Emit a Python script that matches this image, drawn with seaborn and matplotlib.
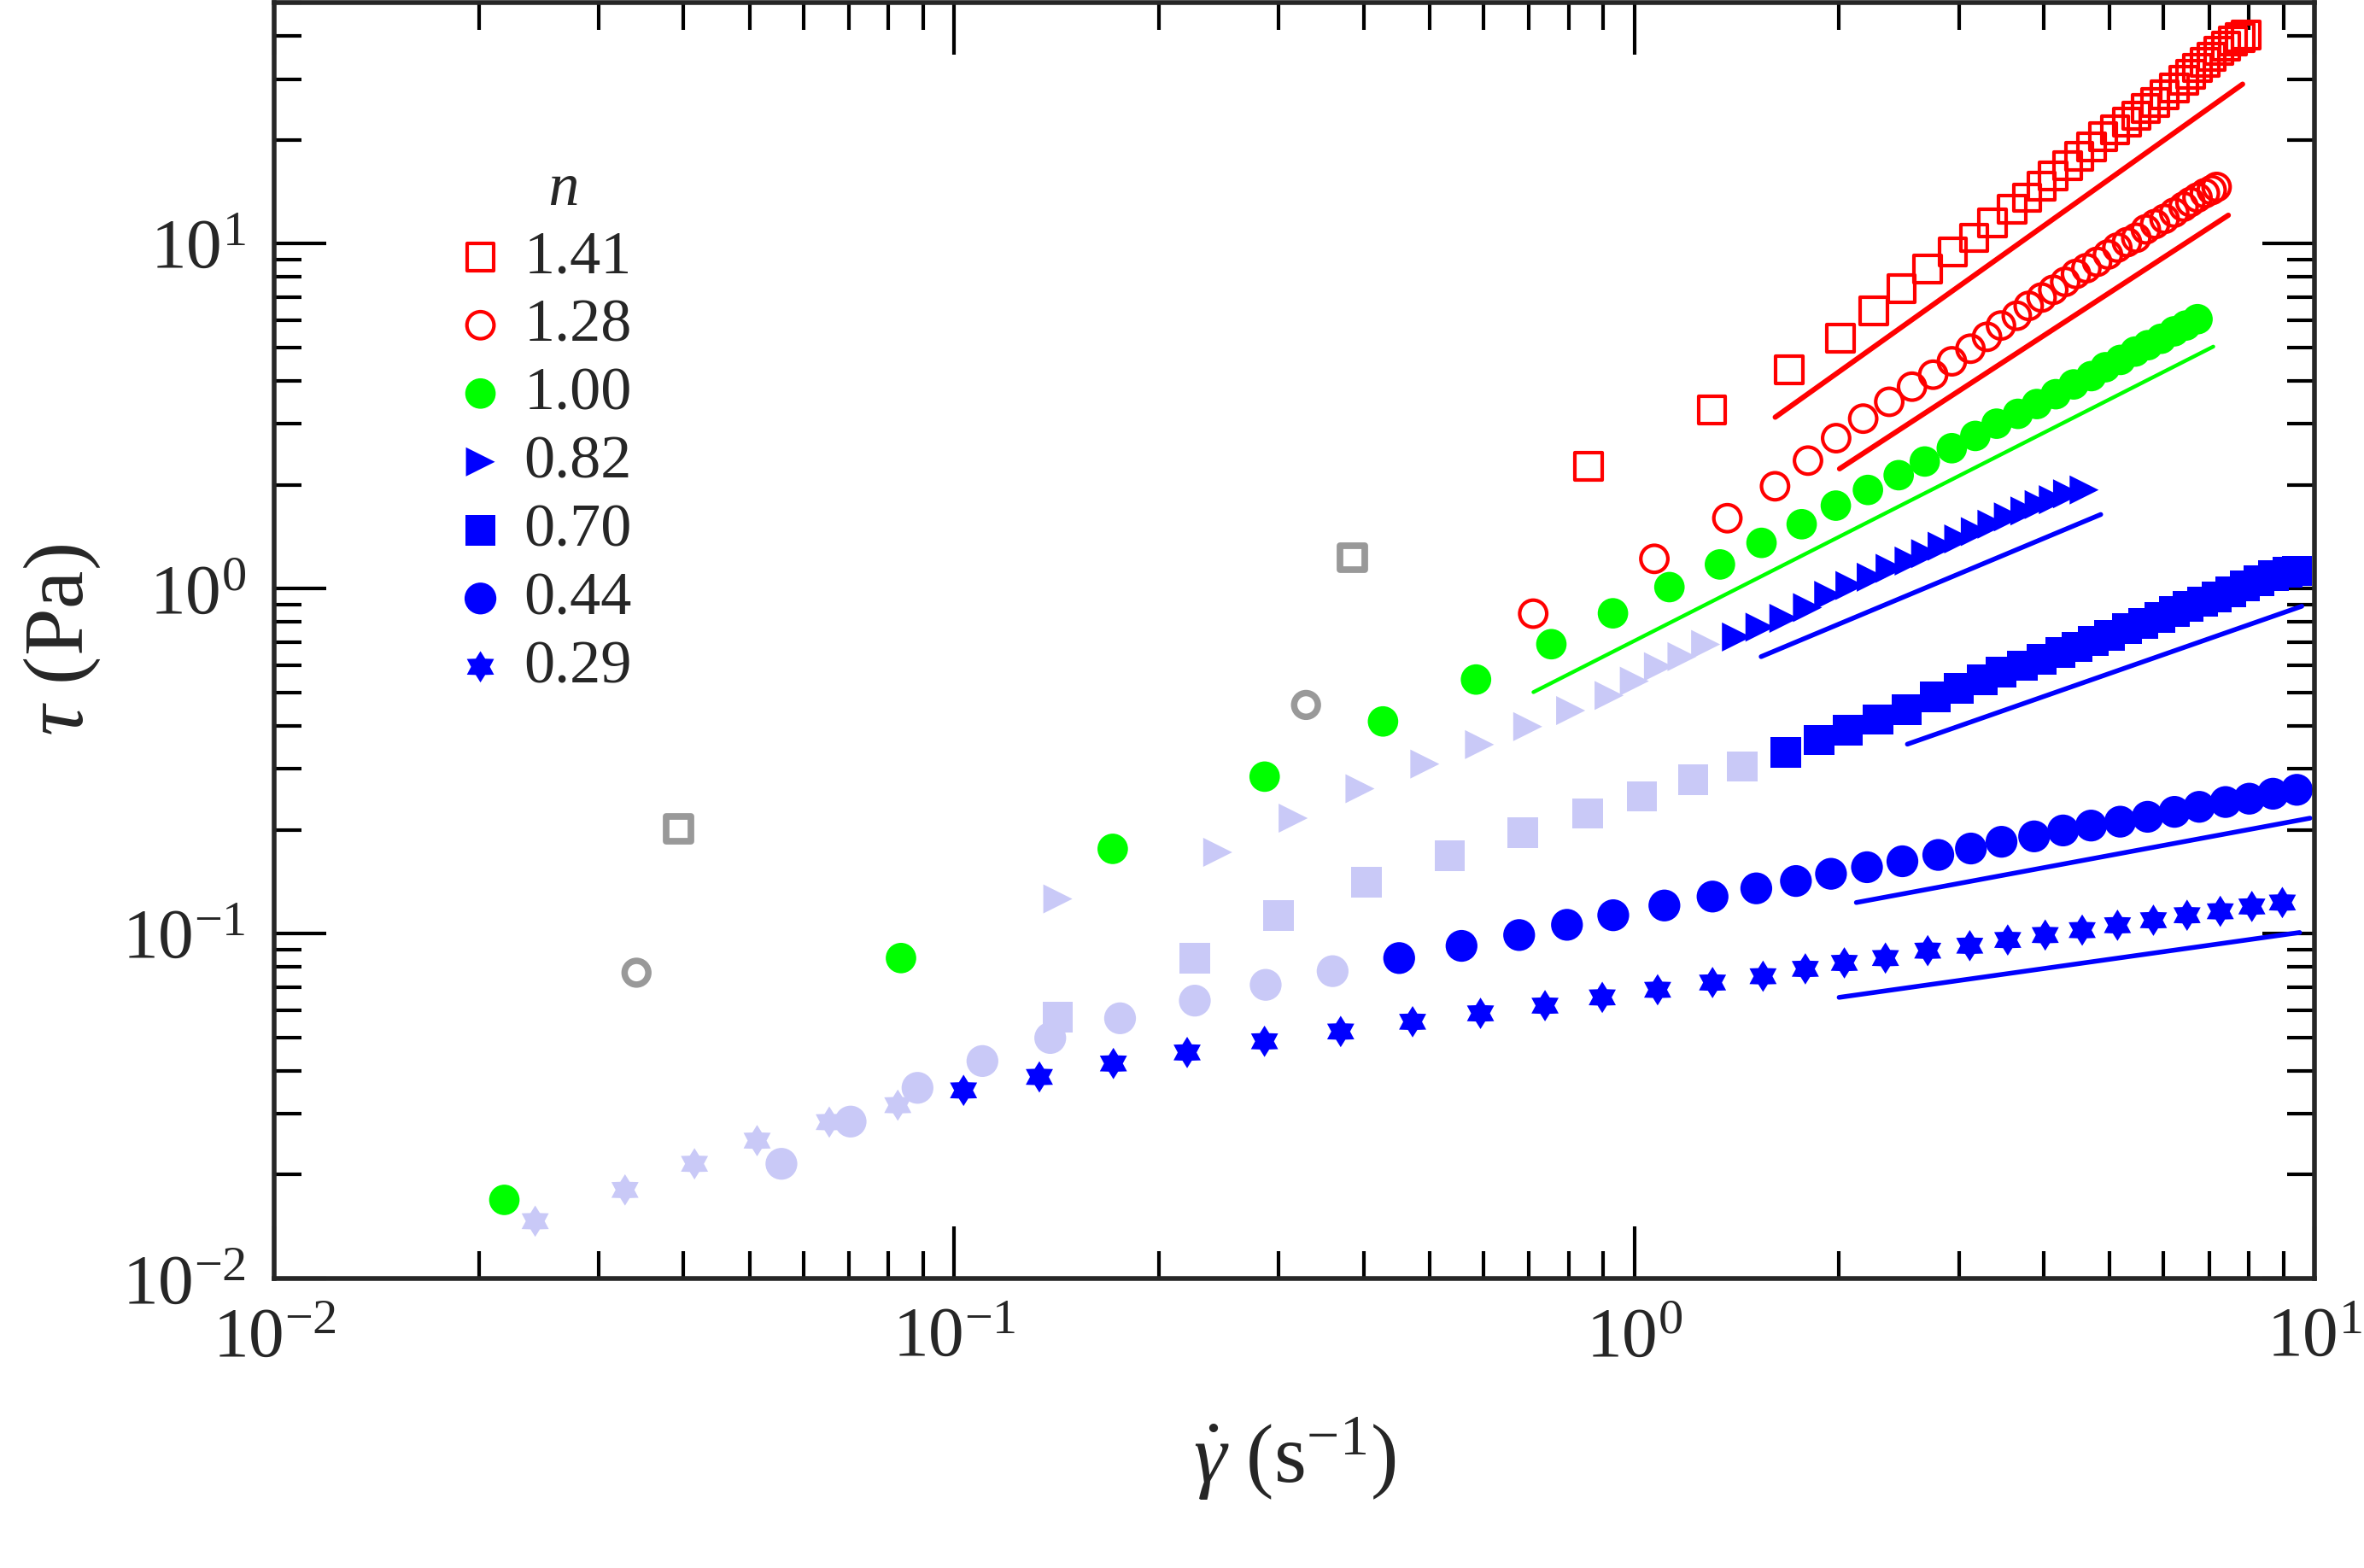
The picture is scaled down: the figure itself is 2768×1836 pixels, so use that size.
import numpy as np
import seaborn as sns
import matplotlib.pyplot as plt

# shear stress vs shear rate, power-law fluids
# values (x = shear rate 1/s, y = stress Pa)

x_141 = [0.857, 1.30, 1.69, 2.01, 2.25, 2.47, 2.70, 2.94, 3.16, 3.36, 3.59, 3.78, 3.97, 4.13, 4.34, 4.51, 4.70, 4.89,
         5.09, 5.30, 5.47, 5.65, 5.83, 6.02, 6.22, 6.42, 6.57, 6.73, 6.90, 7.06, 7.23, 7.41, 7.59, 7.78, 7.94]
y_141 = [2.26, 3.29, 4.31, 5.33, 6.39, 7.40, 8.43, 9.46, 10.4, 11.5, 12.6, 13.6, 14.7, 15.7, 16.8, 17.9, 19.1, 20.4,
         21.4, 22.5, 23.5, 24.7, 25.7, 27.0, 28.3, 29.8, 31.0, 32.3, 33.6, 34.8, 36.2, 37.4, 38.7, 39.6, 40.3]

x_128 = [0.710, 1.07, 1.37, 1.61, 1.80, 1.98, 2.17, 2.37, 2.56, 2.75, 2.93, 3.12, 3.30, 3.46, 3.65, 3.80, 3.97, 4.13,
         4.30, 4.46, 4.62, 4.79, 4.97, 5.13, 5.30, 5.47, 5.65, 5.83, 6.02, 6.22, 6.42, 6.57, 6.73, 6.90, 7.06, 7.18]
y_128 = [0.846, 1.22, 1.60, 1.98, 2.35, 2.73, 3.11, 3.48, 3.85, 4.17, 4.56, 4.96, 5.37, 5.79, 6.18, 6.60, 6.98, 7.35,
         7.75, 8.17, 8.49, 8.86, 9.30, 9.74, 10.1, 10.4, 11.0, 11.4, 11.8, 12.3, 12.8, 13.2, 13.6, 14.0, 14.3, 14.6]

x_100 = [0.0218, 0.0835, 0.171, 0.286, 0.427, 0.585, 0.755, 0.93, 1.126, 1.336, 1.538, 1.762, 1.978, 2.205, 2.447,
         2.673, 2.929, 3.172, 3.409, 3.664, 3.906, 4.165, 4.425, 4.697, 4.927, 5.185, 5.45, 5.69, 5.95, 6.22, 6.47, 6.73]
y_100 = [0.0169, 0.0849, 0.176, 0.285, 0.412, 0.545, 0.69, 0.848, 1.01, 1.175, 1.357, 1.537, 1.74, 1.932, 2.132,
         2.336, 2.553, 2.771, 3.007, 3.211, 3.428, 3.661, 3.908, 4.131, 4.383, 4.603, 4.866, 5.078, 5.30, 5.57, 5.79, 6.04]

x_082_light = [0.142, 0.244, 0.315, 0.395, 0.492, 0.592, 0.697, 0.806, 0.918, 1.00, 1.085, 1.175, 1.273]
y_082_light = [0.126, 0.172, 0.216, 0.263, 0.31, 0.353, 0.398, 0.443, 0.49, 0.539, 0.594, 0.635, 0.689]
x_082 = [1.413, 1.53, 1.659, 1.797, 1.931, 2.075, 2.23, 2.377, 2.535, 2.681, 2.835, 2.999, 3.172, 3.356, 3.548,
         3.752, 3.937, 4.131, 4.335, 4.585]
y_082 = [0.724, 0.773, 0.82, 0.881, 0.956, 1.021, 1.079, 1.145, 1.202, 1.263, 1.327, 1.393, 1.463, 1.537, 1.614,
         1.679, 1.752, 1.81, 1.883, 1.932]

x_070_light = [0.142, 0.226, 0.30, 0.404, 0.535, 0.686, 0.853, 1.026, 1.22, 1.44]
y_070_light = [0.0573, 0.0849, 0.113, 0.141, 0.168, 0.196, 0.223, 0.25, 0.279, 0.305]
x_070 = [1.67, 1.87, 2.06, 2.28, 2.515, 2.77, 3.0, 3.25, 3.46, 3.72, 3.97, 4.23, 4.48, 4.73, 5.0, 5.30, 5.60, 5.92,
         6.22, 6.52, 6.84, 7.18, 7.53, 7.90, 8.29, 8.70, 9.13, 9.42]
y_070 = [0.335, 0.364, 0.388, 0.417, 0.446, 0.485, 0.513, 0.543, 0.572, 0.598, 0.624, 0.652, 0.678, 0.705, 0.733,
         0.765, 0.793, 0.825, 0.858, 0.887, 0.916, 0.947, 0.978, 1.02, 1.055, 1.09, 1.115, 1.126]

x_044_light = [0.0557, 0.0704, 0.0883, 0.110, 0.1384, 0.1753, 0.2258, 0.287, 0.36]
y_044_light = [0.0215, 0.0285, 0.0357, 0.0427, 0.0498, 0.0568, 0.0639, 0.071, 0.0778]
x_044 = [0.451, 0.557, 0.677, 0.796, 0.931, 1.107, 1.303, 1.511, 1.728, 1.946, 2.198, 2.478, 2.798, 3.125, 3.466,
         3.871, 4.27, 4.694, 5.18, 5.684, 6.226, 6.77, 7.40, 8.02, 8.69, 9.42]
y_044 = [0.0849, 0.0921, 0.099, 0.106, 0.113, 0.1206, 0.128, 0.1352, 0.142, 0.149, 0.1557, 0.162, 0.169, 0.1764,
         0.1845, 0.1913, 0.199, 0.2056, 0.211, 0.218, 0.2253, 0.233, 0.2406, 0.246, 0.2543, 0.261]

x_029_light = [0.0242, 0.0328, 0.0415, 0.0513, 0.0655, 0.0826]
y_029_light = [0.01466, 0.01806, 0.0215, 0.0251, 0.0284, 0.0318]
x_029 = [0.1032, 0.1334, 0.1714, 0.22, 0.2859, 0.370, 0.472, 0.594, 0.739, 0.897, 1.082, 1.303, 1.546, 1.784,
         2.036, 2.34, 2.70, 3.113, 3.54, 4.019, 4.555, 5.133, 5.797, 6.496, 7.27, 8.09, 8.97]
y_029 = [0.0351, 0.0384, 0.042, 0.0452, 0.0487, 0.052, 0.0555, 0.0587, 0.0618, 0.0653, 0.0687, 0.0721, 0.0752,
         0.079, 0.0822, 0.0849, 0.0892, 0.0922, 0.0958, 0.099, 0.1023, 0.1057, 0.1093, 0.113, 0.116, 0.1198, 0.123]

# grey outliers
grey_sq_x = [0.0393, 0.385]
grey_sq_y = [0.201, 1.23]
grey_ci_x = [0.0341, 0.329]
grey_ci_y = [0.077, 0.46]

# power law guide lines (start, end)
fit_x_141 = [1.611, 7.84]
fit_y_141 = [3.14, 29.0]
fit_x_128 = [2.003, 7.47]
fit_y_128 = [2.225, 12.09]
fit_x_100 = [0.7105, 7.10]
fit_y_100 = [0.501, 5.03]
fit_x_082 = [1.536, 4.85]
fit_y_082 = [0.635, 1.64]
fit_x_070 = [2.52, 9.58]
fit_y_070 = [0.354, 0.889]
fit_x_044 = [2.12, 9.85]
fit_y_044 = [0.123, 0.216]
fit_x_029 = [2.0, 9.51]
fit_y_029 = [0.0653, 0.1007]

labels = ['1.41', '1.28', '1.00', '0.82', '0.70', '0.44', '0.29']

sns.set_style('ticks')
plt.rcParams['font.family'] = ['Liberation Serif', 'DejaVu Serif']
plt.rcParams['mathtext.fontset'] = 'custom'
plt.rcParams['mathtext.rm'] = 'Liberation Serif'
plt.rcParams['mathtext.it'] = 'Liberation Serif:italic'
plt.rcParams['mathtext.default'] = 'regular'

RED = '#ff0000'
GREEN = '#00ff00'
BLUE = '#0000ff'
LIGHT = '#c9c9f7'
GREY = '#999999'

# six pointed star
ang = np.deg2rad(np.arange(12) * 30 + 90)
rad = np.where(np.arange(12) % 2 == 0, 1.0, 0.6)
star = list(zip(rad * np.cos(ang), rad * np.sin(ang)))

fig = plt.figure(figsize=(13.84, 9.18), dpi=200)
ax = fig.add_axes([0.11597, 0.18464, 0.86308, 0.81373])
ax.set_xscale('log')
ax.set_yscale('log')

# faded low-rate points
sns.scatterplot(x=x_082_light, y=y_082_light, ax=ax, marker='>', s=150, color=LIGHT, edgecolor='none')
sns.scatterplot(x=x_070_light, y=y_070_light, ax=ax, marker='s', s=165, color=LIGHT, edgecolor='none')
sns.scatterplot(x=x_044_light, y=y_044_light, ax=ax, marker='o', s=180, color=LIGHT, edgecolor='none')
sns.scatterplot(x=x_029_light, y=y_029_light, ax=ax, marker=star, s=175, color=LIGHT, edgecolor='none')

sns.scatterplot(x=grey_sq_x, y=grey_sq_y, ax=ax, marker='s', s=105, color=GREY, facecolor='none',
                edgecolor=GREY, linewidth=2.8)
sns.scatterplot(x=grey_ci_x, y=grey_ci_y, ax=ax, marker='o', s=100, color=GREY, facecolor='none',
                edgecolor=GREY, linewidth=2.7)

sns.scatterplot(x=x_141, y=y_141, ax=ax, marker='s', s=130, color=RED, facecolor='none', edgecolor=RED,
                linewidth=1.5, label=labels[0])
sns.scatterplot(x=x_128, y=y_128, ax=ax, marker='o', s=130, color=RED, facecolor='none', edgecolor=RED,
                linewidth=1.5, label=labels[1])
sns.scatterplot(x=x_100, y=y_100, ax=ax, marker='o', s=165, color=GREEN, edgecolor='none', label=labels[2])
sns.scatterplot(x=x_082, y=y_082, ax=ax, marker='>', s=150, color=BLUE, edgecolor='none', label=labels[3])
sns.scatterplot(x=x_070, y=y_070, ax=ax, marker='s', s=165, color=BLUE, edgecolor='none', label=labels[4])
sns.scatterplot(x=x_044, y=y_044, ax=ax, marker='o', s=180, color=BLUE, edgecolor='none', label=labels[5])
sns.scatterplot(x=x_029, y=y_029, ax=ax, marker=star, s=175, color=BLUE, edgecolor='none', label=labels[6])

fits = [(fit_x_141, fit_y_141, RED, 2.2), (fit_x_128, fit_y_128, RED, 2.2), (fit_x_100, fit_y_100, GREEN, 1.6),
        (fit_x_082, fit_y_082, BLUE, 2.0), (fit_x_070, fit_y_070, BLUE, 2.0), (fit_x_044, fit_y_044, BLUE, 2.0),
        (fit_x_029, fit_y_029, BLUE, 2.0)]
for fx, fy, c, lw in fits:
    sns.lineplot(x=fx, y=fy, ax=ax, color=c, linewidth=lw, estimator=None, sort=False)

ax.set_xlim(1e-2, 1e1)
ax.set_ylim(1e-2, 50)

for side in ['left', 'right', 'top', 'bottom']:
    ax.spines[side].set_linewidth(2.0)
    ax.spines[side].set_visible(True)
ax.tick_params(which='both', direction='in', top=True, right=True, width=1.5, color='black')
ax.tick_params(which='major', length=22, labelsize=30, pad=12)
ax.tick_params(which='minor', length=11.5)

ax.set_xlabel(r'$\dot{\mathit{\gamma}}\ (\mathrm{s}^{-1})$', fontsize=35, labelpad=18)
ax.set_ylabel(r'$\mathit{\tau}$ (Pa)', fontsize=36, labelpad=8)

ax.legend(loc='upper left', bbox_to_anchor=(0.086, 0.875), frameon=False, title='   n',
          title_fontproperties={'style': 'italic', 'size': 26}, prop={'size': 26},
          handlelength=1.0, handletextpad=0.2, labelspacing=0.2, borderpad=0, borderaxespad=0, scatterpoints=1)

fig.savefig('out.png', dpi=200)
